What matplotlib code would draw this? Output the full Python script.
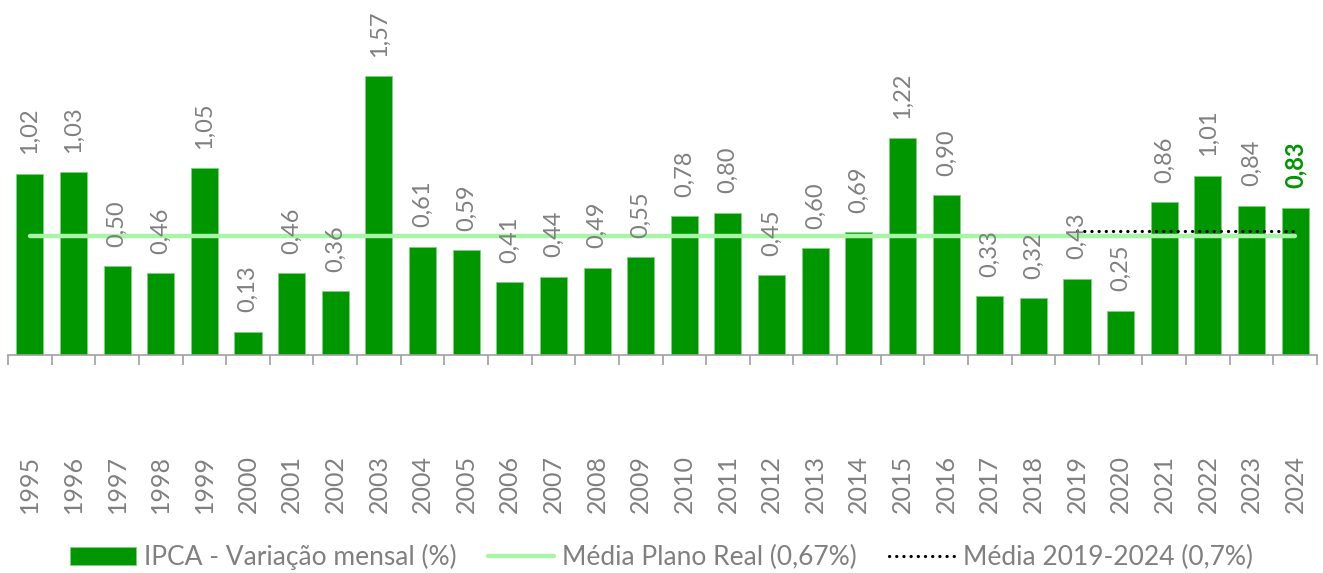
import matplotlib.pyplot as plt
import numpy as np

plt.rcParams['font.family'] = ['Lato', 'DejaVu Sans']

# dados
anos = [str(a) for a in range(1995, 2025)]
ipca = [1.02, 1.03, 0.50, 0.46, 1.05, 0.13, 0.46, 0.36, 1.57, 0.61,
        0.59, 0.41, 0.44, 0.49, 0.55, 0.78, 0.80, 0.45, 0.60, 0.69,
        1.22, 0.90, 0.33, 0.32, 0.43, 0.25, 0.86, 1.01, 0.84, 0.83]
media_plano_real = 0.67
media_recente = 0.70
inicio_recente = '2019'

verde = '#009600'
cinza = '#808080'

fig = plt.figure(figsize=(13.23, 5.73), dpi=100)
ax = fig.add_axes([8 / 1323, 1 - 355 / 573, 1309 / 1323, 355 / 573])

x = np.arange(len(anos))
barras = ax.bar(x, ipca, width=0.62, color=verde, edgecolor='#7fd07f', linewidth=0.6,
                label='IPCA - Variação mensal (%)', zorder=2)

# linhas de média (por cima das barras)
l1, = ax.plot([x[0], x[-1]], [media_plano_real] * 2, color='#a8f5a8', lw=3.2,
              solid_capstyle='round', label='Média Plano Real (0,67%)', zorder=3)
i0 = anos.index(inicio_recente)
l2, = ax.plot([x[i0], x[-1]], [media_recente] * 2, color='black', lw=2.3,
              linestyle=(0, (0.05, 2.2)), dash_capstyle='round',
              label='Média 2019-2024 (0,7%)', zorder=4)

# rótulos dos valores
for i, v in enumerate(ipca):
    ultimo = i == len(ipca) - 1
    ax.annotate(f'{v:.2f}'.replace('.', ','), (x[i], v), xytext=(0, 14),
                textcoords='offset points', rotation=90, ha='center', va='bottom',
                fontsize=17, color=verde if ultimo else cinza,
                fontweight='bold' if ultimo else 'normal', zorder=5)

ax.set_xlim(-0.5, len(anos) - 0.5)
ax.set_ylim(0, 1.998)
ax.set_yticks([])
for s in ['top', 'right', 'left']:
    ax.spines[s].set_visible(False)
ax.spines['bottom'].set_color('#a0a0a0')
ax.spines['bottom'].set_linewidth(1.2)

ax.set_xticks(x)
ax.set_xticklabels(anos, rotation=90, fontsize=18, color=cinza)
ax.tick_params(axis='x', which='major', length=0, pad=72)
ax.set_xticks(np.arange(-0.5, len(anos), 1), minor=True)
ax.tick_params(axis='x', which='minor', length=7, width=1.2, color='#a0a0a0')

fig.legend([barras, l1, l2], [barras.get_label(), l1.get_label(), l2.get_label()],
           loc='center', bbox_to_anchor=(0.5, 1 - 557 / 573), ncol=3, frameon=False,
           fontsize=19, labelcolor=cinza, handlelength=2.5, handleheight=0.7,
           columnspacing=1.2, handletextpad=0.3, borderpad=0)

fig.savefig('out.png', dpi=100)
